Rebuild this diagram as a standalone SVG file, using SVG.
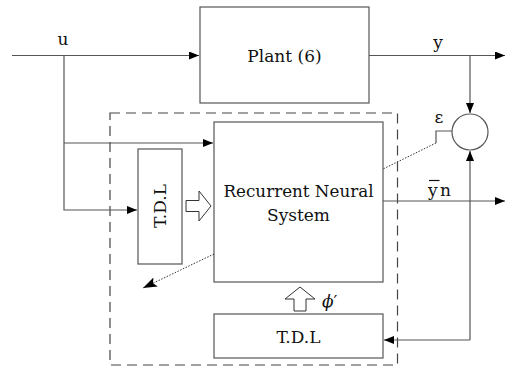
<svg xmlns="http://www.w3.org/2000/svg" width="505" height="368" viewBox="0 0 505 368">
<defs>
<marker id="ah" markerUnits="userSpaceOnUse" markerWidth="11" markerHeight="9" refX="10" refY="4" orient="auto">
<path d="M0,0 L10,4 L0,8 z" fill="#000"/>
</marker>
<marker id="ahb" markerUnits="userSpaceOnUse" markerWidth="15" markerHeight="11" refX="14" refY="5" orient="auto">
<path d="M0,0 L14,5 L0,10 L3,5 z" fill="#000"/>
</marker>
</defs>
<style>
.box{fill:#fff;stroke:#555;stroke-width:1.2}
.ln{fill:none;stroke:#555;stroke-width:1.2}
.dot{fill:none;stroke:#333;stroke-width:1;stroke-dasharray:1.5,1.5}
.dash{fill:none;stroke:#444;stroke-width:1.2;stroke-dasharray:10,6}
.hol{fill:#fff;stroke:#333;stroke-width:1}
.t{font-family:'DejaVu Serif','Liberation Serif',serif;fill:#111;font-size:17px}
</style>
<rect width="505" height="368" fill="#fff"/>
<g id="controller-frame">
<rect class="dash" x="110" y="113" width="287.5" height="252"/>
</g>
<g id="plant">
<rect class="box" x="200" y="7" width="169" height="96"/>
<text class="t" x="284.5" y="62" text-anchor="middle">Plant (6)</text>
</g>
<g id="rns">
<rect class="box" x="214" y="122" width="169" height="160"/>
<text class="t" x="298.5" y="197" text-anchor="middle" textLength="150" lengthAdjust="spacingAndGlyphs">Recurrent Neural</text>
<text class="t" x="298.5" y="221" text-anchor="middle">System</text>
</g>
<g id="tdl-input">
<rect class="box" x="138" y="149" width="44" height="115"/>
<text class="t" transform="translate(166,206) rotate(-90)" text-anchor="middle">T.D.L</text>
</g>
<g id="tdl-feedback">
<rect class="box" x="214" y="314" width="169" height="44"/>
<text class="t" x="298.5" y="343" text-anchor="middle">T.D.L</text>
</g>
<g id="sum">
<circle class="box" cx="470" cy="132" r="18"/>
</g>
<g id="connectors">
<path class="ln" d="M12,55.5 H199" marker-end="url(#ah)"/>
<path class="ln" d="M369,55.5 H505" marker-end="url(#ah)"/>
<path class="ln" d="M470,55.5 V113" marker-end="url(#ah)"/>
<path class="ln" d="M64,55.5 V210 H137" marker-end="url(#ah)"/>
<path class="ln" d="M64,143 H213" marker-end="url(#ah)"/>
<path class="ln" d="M383,201 H505" marker-end="url(#ah)"/>
<path class="ln" d="M470,340 V151" marker-end="url(#ah)"/>
<path class="ln" d="M470,340 H384" marker-end="url(#ah)"/>
<path class="ln" d="M452,131 H436 V143"/>
<path class="dot" d="M436,143 L383,169"/>
<path class="dot" d="M214,254 L143,288" marker-end="url(#ahb)"/>
<path class="hol" d="M186,200.5 H199 V191 L211,206 L199,221 V211.5 H186 z"/>
<path class="hol" d="M294,311 V299 H285 L300,287 L315,299 H306 V311 z"/>
</g>
<g id="labels">
<text class="t" x="63" y="45" text-anchor="middle">u</text>
<text class="t" x="438" y="48" text-anchor="middle">y</text>
<text class="t" x="439" y="123" text-anchor="middle">ε</text>
<text class="t" x="428" y="196">y</text>
<path d="M429,180.5 H439.5" stroke="#111" stroke-width="1.2"/>
<text class="t" x="440" y="196">n</text>
<text class="t" x="322" y="307" font-style="italic" font-size="20">ϕ<tspan font-style="normal">′</tspan></text>
</g>
</svg>
